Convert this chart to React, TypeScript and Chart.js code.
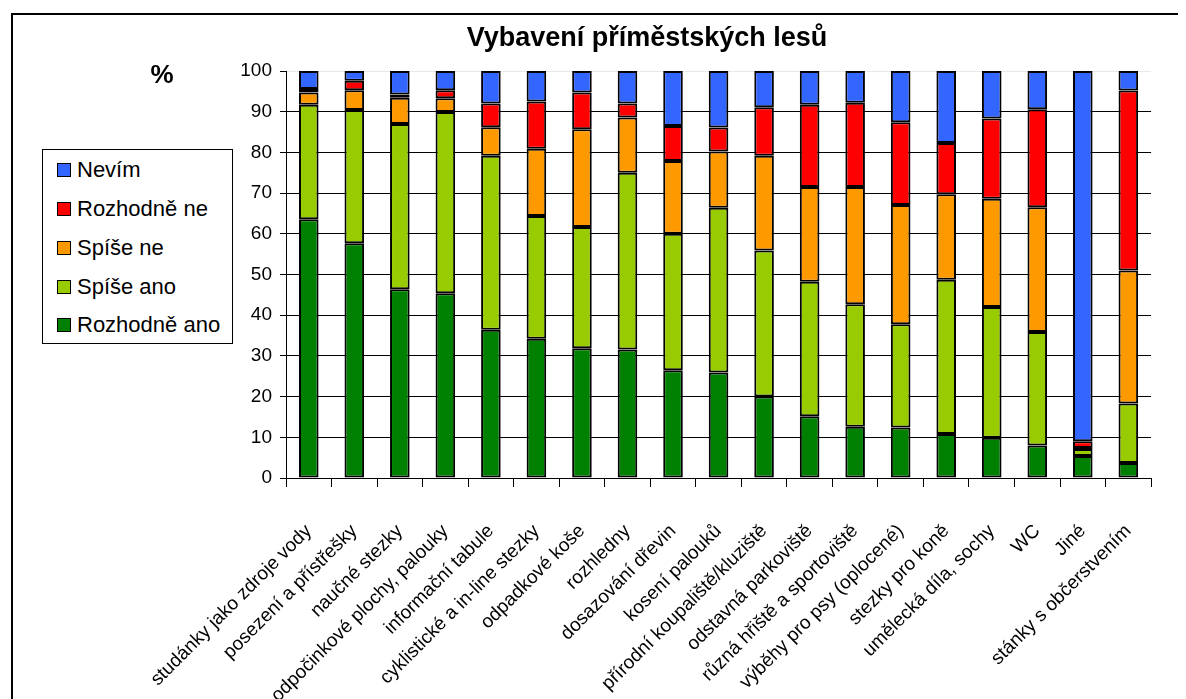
import React, { useEffect, useRef } from "react";
import { Chart, registerables } from "chart.js";

Chart.register(...registerables);

const categories = [
  "studánky jako zdroje vody",
  "posezení a přístřešky",
  "naučné stezky",
  "odpočinkové plochy, palouky",
  "informační tabule",
  "cyklistické a in-line stezky",
  "odpadkové koše",
  "rozhledny",
  "dosazování dřevin",
  "kosení palouků",
  "přírodní koupaliště/kluziště",
  "odstavná parkoviště",
  "různá hřiště a sportoviště",
  "výběhy pro psy (oplocené)",
  "stezky pro koně",
  "umělecká díla, sochy",
  "WC",
  "Jiné",
  "stánky s občerstvením",
];

const rozhodneAno = [63.6, 57.7, 46.4, 45.4, 36.4, 34.2, 31.9, 31.6, 26.5, 25.9, 20.0, 15.2, 12.6, 12.4, 10.8, 9.9, 8.0, 5.4, 3.7];
const spiseAno = [28.1, 32.7, 40.6, 44.5, 42.8, 30.2, 29.8, 43.4, 33.5, 40.5, 35.9, 33.0, 30.1, 25.4, 37.9, 32.1, 27.9, 1.7, 14.6];
const spiseNe = [3.0, 4.9, 6.4, 3.4, 7.0, 16.5, 24.0, 13.6, 17.9, 13.8, 23.3, 23.3, 28.8, 29.3, 21.0, 26.6, 30.6, 0.3, 32.7];
const rozhodneNe = [0.9, 2.3, 0.8, 2.0, 5.8, 11.6, 9.0, 3.4, 8.6, 5.9, 11.9, 20.2, 20.7, 20.3, 12.6, 19.7, 24.1, 1.6, 44.2];
const nevim = [4.4, 2.4, 5.8, 4.7, 8.0, 7.5, 5.3, 8.0, 13.5, 13.9, 8.9, 8.3, 7.8, 12.6, 17.7, 11.7, 9.4, 91.0, 4.8];

const yTicks = [0, 10, 20, 30, 40, 50, 60, 70, 80, 90, 100];

const seriesNames = ["Rozhodně ano", "Spíše ano", "Spíše ne", "Rozhodně ne", "Nevím"];
const seriesColors = ["#008000", "#99CC00", "#FF9900", "#FF0000", "#3366FF"];
const seriesData = [rozhodneAno, spiseAno, spiseNe, rozhodneNe, nevim];

const FONT = "Arial, 'Liberation Sans', sans-serif";

export default function App() {
  const canvasRef = useRef<HTMLCanvasElement | null>(null);

  useEffect(() => {
    document.documentElement.style.overflow = "hidden";
    const canvas = canvasRef.current;
    if (!canvas) return;
    const chart = new Chart(canvas, {
      type: "bar",
      data: {
        labels: categories,
        datasets: seriesData.map((d, i) => ({
          label: seriesNames[i],
          data: d,
          backgroundColor: seriesColors[i],
          borderColor: "#000000",
          borderWidth: 2,
          borderSkipped: false,
          barPercentage: 0.43,
          categoryPercentage: 1,
        })),
      },
      options: {
        animation: false,
        responsive: false,
        devicePixelRatio: 1,
        layout: { padding: { left: 0, right: 21, top: 63, bottom: 0 } },
        plugins: {
          legend: { display: false },
          title: { display: false },
          tooltip: { enabled: false },
        },
        scales: {
          x: {
            stacked: true,
            afterFit: (scale: any) => {
              scale.height = 221;
            },
            grid: {
              display: true,
              drawOnChartArea: false,
              drawTicks: true,
              tickLength: 9,
              color: "#000000",
              offset: true,
            },
            border: { display: true, color: "#000000", width: 1 },
            ticks: {
              autoSkip: false,
              maxRotation: 45,
              minRotation: 45,
              padding: 33,
              color: "#000000",
              font: { family: FONT, size: 19 },
            },
          },
          y: {
            stacked: true,
            min: 0,
            max: 100,
            afterFit: (scale: any) => {
              scale.width = 278;
            },
            afterBuildTicks: (scale: any) => {
              scale.ticks = yTicks.map((v) => ({ value: v }));
            },
            grid: {
              color: (ctx: any) => (ctx.tick && ctx.tick.value === 100 ? "#e8e8e8" : "#000000"),
              lineWidth: 1,
              tickLength: 6,
              drawTicks: true,
              tickColor: "#000000",
            } as any,
            border: { display: true, color: "#000000", width: 1 },
            ticks: {
              padding: 8,
              color: "#000000",
              font: { family: FONT, size: 19 },
            },
          },
        },
      },
    });
    return () => chart.destroy();
  }, []);

  const legendItems = seriesNames.map((n, i) => ({ name: n, color: seriesColors[i] })).reverse();

  return (
    <div style={{ position: "relative", width: 1170, height: 691, overflow: "hidden", fontFamily: FONT }}>
      <div
        style={{
          position: "absolute",
          left: 3,
          top: 5,
          width: 1300,
          height: 900,
          border: "2px solid #000",
          boxSizing: "border-box",
        }}
      />
      <canvas ref={canvasRef} width={1170} height={691} style={{ position: "absolute", left: 0, top: 0 }} />
      <div
        style={{
          position: "absolute",
          left: 339,
          width: 600,
          top: 16,
          textAlign: "center",
          fontWeight: "bold",
          fontSize: 27,
          lineHeight: "27px",
          color: "#000",
        }}
      >
        Vybavení příměstských lesů
      </div>
      <div
        style={{
          position: "absolute",
          left: 124,
          width: 60,
          top: 53,
          textAlign: "center",
          fontWeight: "bold",
          fontSize: 26,
          lineHeight: "26px",
          color: "#000",
        }}
      >
        %
      </div>
      <div
        style={{
          position: "absolute",
          left: 34,
          top: 141,
          width: 191,
          height: 195,
          border: "1px solid #000",
          boxSizing: "border-box",
          paddingTop: 1,
          background: "#fff",
        }}
      >
        {legendItems.map((it) => (
          <div
            key={it.name}
            style={{ display: "flex", alignItems: "center", height: 38.75, paddingLeft: 14 }}
          >
            <span
              style={{
                display: "inline-block",
                width: 14,
                height: 14,
                boxSizing: "border-box",
                border: "1.5px solid #000",
                background: it.color,
                marginRight: 6,
              }}
            />
            <span style={{ fontSize: 22, color: "#000", lineHeight: "22px" }}>{it.name}</span>
          </div>
        ))}
      </div>
    </div>
  );
}
